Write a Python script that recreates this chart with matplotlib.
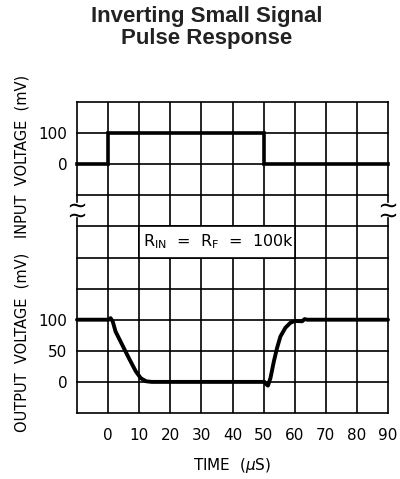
import numpy as np
import matplotlib.pyplot as plt
from matplotlib.patches import Rectangle

plt.rcParams['font.family'] = 'DejaVu Sans'
plt.rcParams['mathtext.fontset'] = 'dejavusans'

# time grid (us)
grid_t = [-10, 0, 10, 20, 30, 40, 50, 60, 70, 80, 90]
time_ticks = [0, 10, 20, 30, 40, 50, 60, 70, 80, 90]

# input pulse (mV)
in_t = [-10, 0, 0, 50, 50, 90]
in_v = [0, 0, 100, 100, 0, 0]

# output response (mV)
out_t = [-10, 0.2, 0.8, 1.5, 2.4, 4.5, 6.7, 8.9, 10.5, 12.2, 14,
         50.3, 50.9, 51.4, 52.2, 53.3, 54.3, 55.4, 57, 58.6, 60,
         62.4, 63.2, 64.0, 90]
out_v = [100, 100, 102.5, 97, 81, 60, 38, 17, 6, 1, 0,
         0, -4, -6, 6, 33, 54, 73, 87, 95, 98,
         97.5, 101, 100, 100]

in_ticks = [0, 100]
out_ticks = [0, 50, 100]


# both traces share one grid: output on rows 1-3, input on rows 8-9
def in_y(v):
    return 8 + np.asarray(v) / 100.0


def out_y(v):
    return 1 + np.asarray(v) / 50.0


fig = plt.figure(figsize=(4.0, 4.79), dpi=100)
ax = fig.add_axes([0.1925, 0.1378, 0.7775, 0.6492])
ax.set_xlim(-10, 90)
ax.set_ylim(0, 10)
for s in ax.spines.values():
    s.set_visible(False)

gw = 1.2
# grid, with the broken edges
for t in grid_t:
    if t in (-10, 90):
        ax.plot([t, t], [0, 6.27], color='black', lw=gw, zorder=1, clip_on=False)
        ax.plot([t, t], [6.78, 10], color='black', lw=gw, zorder=1, clip_on=False)
        ax.plot([t, t], [6.69, 6.37], ls='none', marker='$\\sim$', ms=11,
                color='black', mew=0, clip_on=False, zorder=3)
    else:
        ax.plot([t, t], [0, 10], color='black', lw=gw, zorder=1)
for r in range(11):
    ax.plot([-10, 90], [r, r], color='black', lw=gw, zorder=1, clip_on=False)

ax.add_patch(Rectangle((10, 5), 50, 1, facecolor='white', edgecolor='black',
                       lw=gw, zorder=2))
ax.text(35.5, 5.5, 'R$_\\mathregular{IN}$  =  R$_\\mathregular{F}$  =  100k',
        ha='center', va='center', fontsize=11.5, zorder=3)

ax.plot(in_t, in_y(in_v), color='black', lw=2.6, zorder=4,
        solid_joinstyle='miter', clip_on=False)
ax.plot(out_t, out_y(out_v), color='black', lw=2.8, zorder=4,
        solid_joinstyle='round', solid_capstyle='round', clip_on=False)

ax.set_xticks(time_ticks)
ax.set_xticklabels([str(t) for t in time_ticks])
yt = list(out_y(out_ticks)) + list(in_y(in_ticks))
ax.set_yticks(yt)
ax.set_yticklabels([str(v) for v in out_ticks] + [str(v) for v in in_ticks])
ax.tick_params(length=0, labelsize=11)
ax.tick_params(axis='x', pad=11)
ax.tick_params(axis='y', pad=7)

ax.set_xlabel('TIME  ($\\mu$S)', fontsize=11, labelpad=9)

fig.text(0.055, 0.674, 'INPUT  VOLTAGE  (mV)', rotation=90, ha='center',
         va='center', fontsize=10.5)
fig.text(0.055, 0.285, 'OUTPUT  VOLTAGE  (mV)', rotation=90, ha='center',
         va='center', fontsize=10.5)

fig.text(0.517, 0.942, 'Inverting Small Signal\nPulse Response', ha='center',
         va='center', fontsize=16, fontweight='bold', family='Liberation Sans',
         color='#222222', linespacing=1.05)

fig.savefig('out.png', dpi=100)
